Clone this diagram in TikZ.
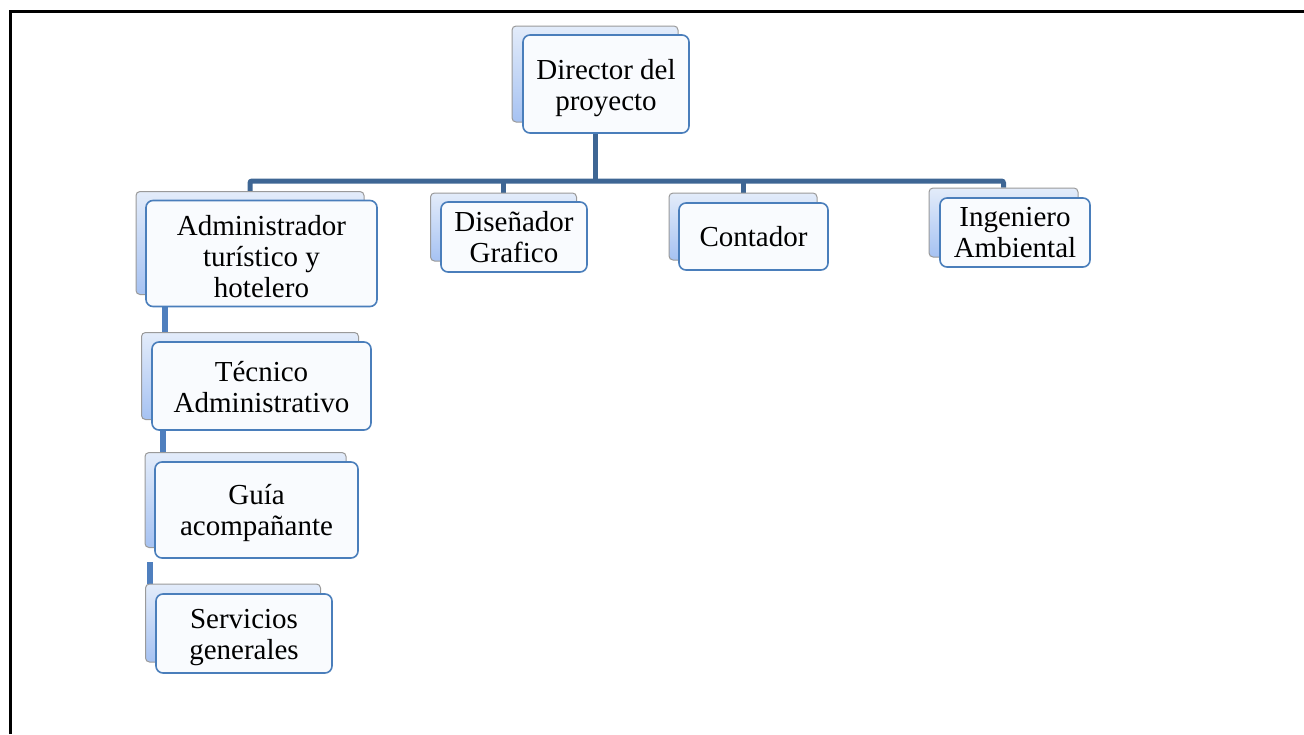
\documentclass[tikz,border=0pt]{standalone}
\usepackage{fontspec}
\setmainfont{Liberation Serif}
\usetikzlibrary{backgrounds}
\definecolor{boxline}{HTML}{4A7EBB}
\definecolor{boxfill}{HTML}{F9FBFE}
\definecolor{backtop}{HTML}{E3ECFA}
\definecolor{backbot}{HTML}{A6C2F2}
\definecolor{backline}{HTML}{9A9A9A}
\definecolor{mainconn}{HTML}{3E6694}
\definecolor{sideconn}{HTML}{4F7FBE}
\newcommand{\boxtext}[2]{\raisebox{0pt}[\dimexpr\height+2\dimexpr#1\relax\relax][\depth]{\begin{tabular}{@{}c@{}}#2\end{tabular}}}
\tikzset{
  frontbox/.style={draw=boxline, line width=1.6pt, fill=boxfill, rounded corners=7pt,
    align=center, inner sep=0pt, font=\fontsize{29}{31}\selectfont},
  backbox/.style={draw=backline, line width=1pt, top color=backtop, bottom color=backbot,
    rounded corners=4pt, inner sep=0pt},
  mainline/.style={draw=mainconn, line width=5pt},
  sideline/.style={draw=sideconn, line width=6pt},
  frameline/.style={draw=black, line width=3pt},
}
\begin{document}
\begin{tikzpicture}[x=1pt,y=-1pt]
\useasboundingbox (0,0) rectangle (1304,734);
% back boxes
\node[backbox, minimum width=166pt, minimum height=96pt] (dirb) at (595,74) {};
\node[backbox, minimum width=228pt, minimum height=103pt] (admb) at (250,243) {};
\node[backbox, minimum width=217pt, minimum height=87pt] (tecb) at (250,376) {};
\node[backbox, minimum width=201pt, minimum height=95pt] (guib) at (245.5,500) {};
\node[backbox, minimum width=175pt, minimum height=78pt] (serb) at (233,623) {};
\node[backbox, minimum width=146pt, minimum height=68pt] (disb) at (503.5,227) {};
\node[backbox, minimum width=148pt, minimum height=67pt] (conb) at (743,226.5) {};
\node[backbox, minimum width=149pt, minimum height=69pt] (ingb) at (1003.5,222.5) {};
% front boxes
\node[frontbox, minimum width=166pt, minimum height=98pt] (dirf) at (606,84) {\boxtext{4.5pt}{Director del\\proyecto}};
\node[frontbox, minimum width=231pt, minimum height=105pt] (admf) at (261.5,253.5) {\boxtext{6.5pt}{Administrador\\turístico y\\hotelero}};
\node[frontbox, minimum width=219pt, minimum height=88pt] (tecf) at (261.5,386) {\boxtext{4.5pt}{Técnico\\Administrativo}};
\node[frontbox, minimum width=203pt, minimum height=96pt] (guif) at (256.5,510) {\boxtext{4pt}{Guía\\acompañante}};
\node[frontbox, minimum width=176pt, minimum height=79pt] (serf) at (244,633.5) {\boxtext{4.5pt}{Servicios\\generales}};
\node[frontbox, minimum width=146pt, minimum height=68pt] (disf) at (514,237) {\boxtext{4pt}{Diseñador\\Grafico}};
\node[frontbox, minimum width=149pt, minimum height=67pt] (conf) at (753.5,236.5) {\boxtext{4pt}{Contador}};
\node[frontbox, minimum width=150pt, minimum height=69pt] (ingf) at (1015,232.5) {\boxtext{3.5pt}{Ingeniero\\Ambiental}};
\coordinate (bar) at (595,181);
\begin{scope}[on background layer]
  \draw[frameline] (10,734) -- (10,11) -- (1304,11);
  \draw[mainline] (dirb.south) -- (bar);
  \draw[mainline, rounded corners=2pt] (admb.north) |- (bar) -| (ingb.north);
  \draw[mainline] (disb.north) -- (disb.north |- bar);
  \draw[mainline] (conb.north) -- (conb.north |- bar);
  \draw[sideline] ([xshift=24pt]tecb.north west) -- ([xshift=24pt]tecb.north west |- admf.south);
  \draw[sideline] ([xshift=18pt]guib.north west) -- ([xshift=18pt]guib.north west |- tecf.south);
  \draw[sideline] ([xshift=5pt]serb.north west) -- ([xshift=5pt,yshift=-3pt]serb.north west |- guif.south);
\end{scope}
\end{tikzpicture}
\end{document}
